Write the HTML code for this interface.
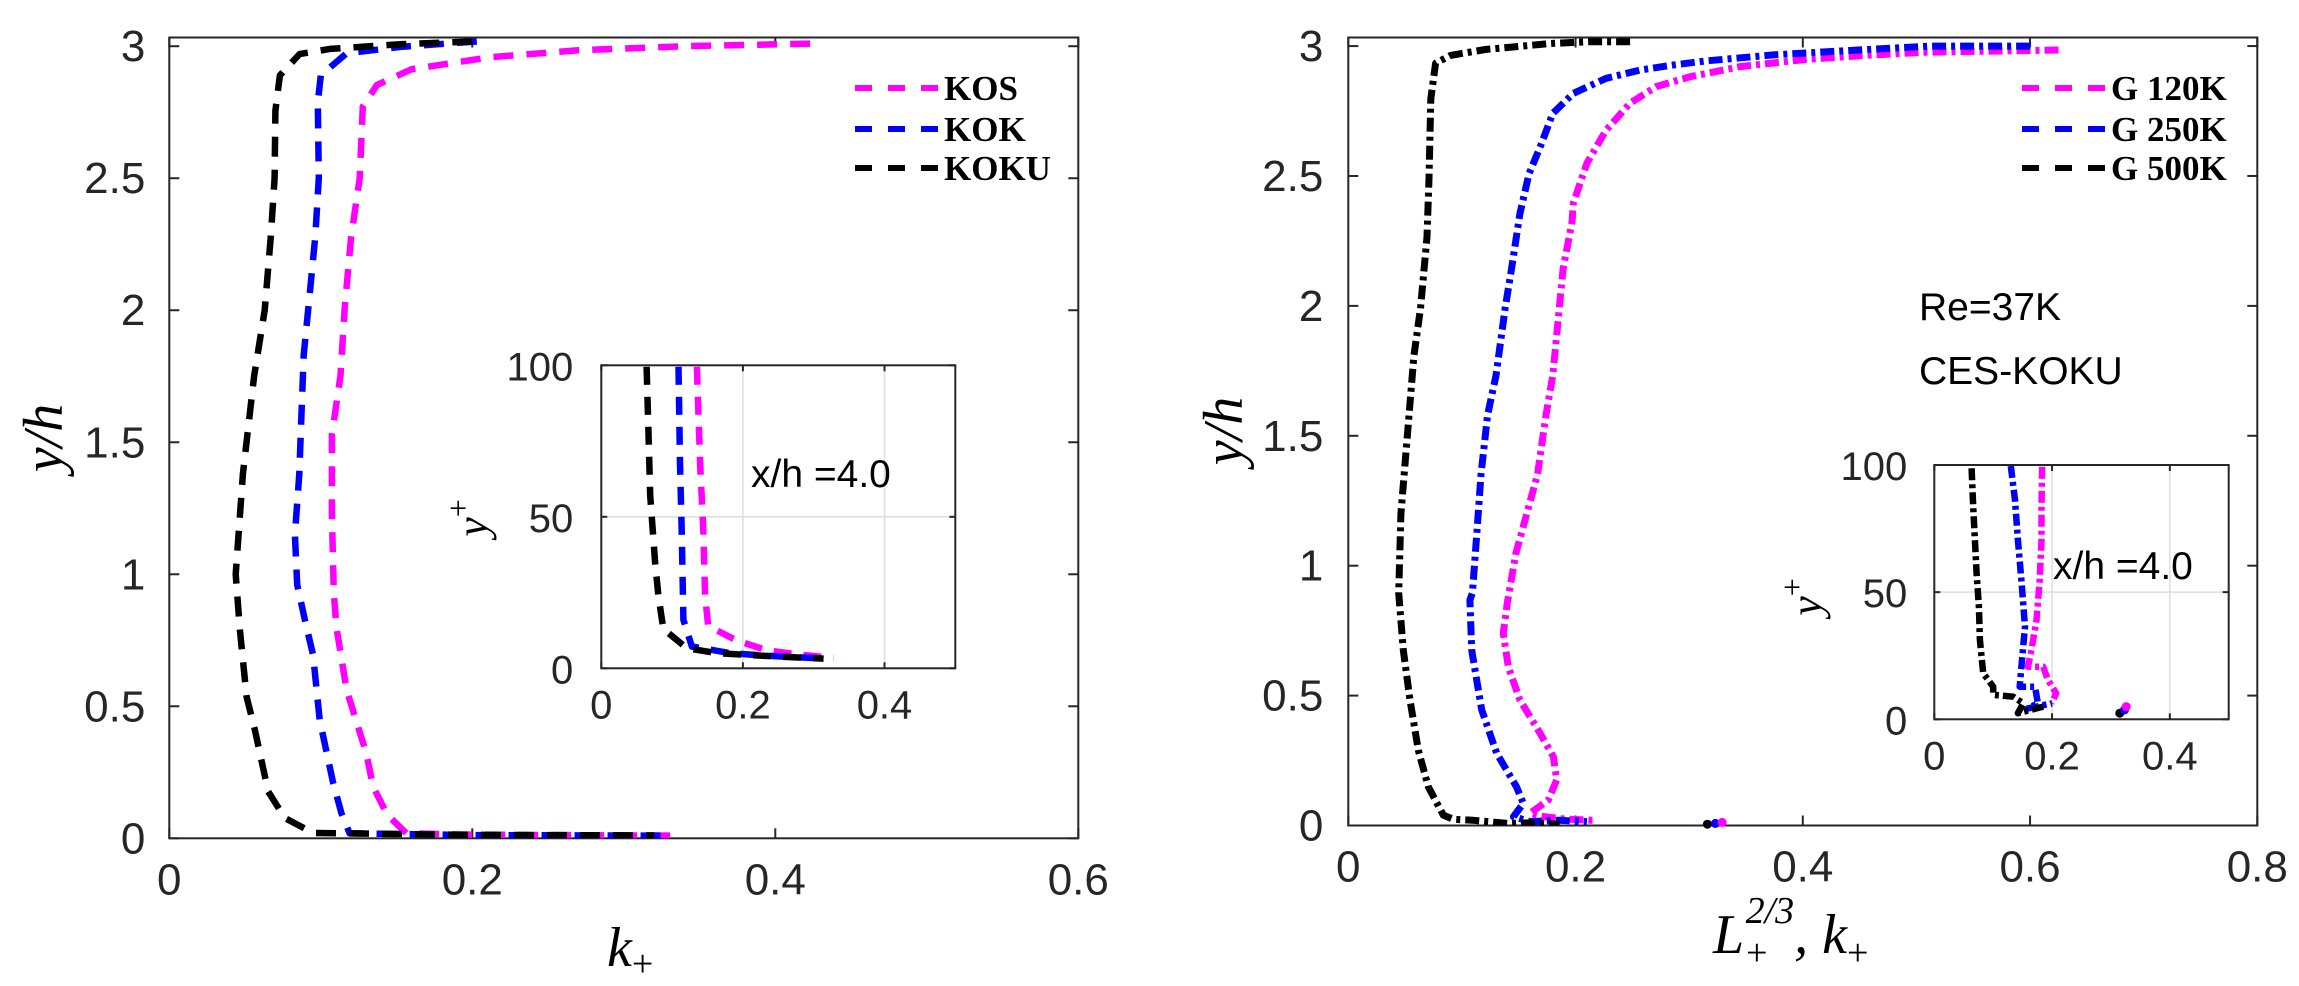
<!DOCTYPE html>
<html><head><meta charset="utf-8">
<style>
html,body{margin:0;padding:0;background:#fff;}
svg{display:block;}
.tk{font-family:"Liberation Sans",sans-serif;font-size:44px;fill:#262626;}
.tki{font-family:"Liberation Sans",sans-serif;font-size:40px;fill:#262626;}
.lg{font-family:"Liberation Serif",serif;font-weight:bold;font-size:35px;fill:#000;}
.al{font-family:"Liberation Serif",serif;font-style:italic;font-size:56px;fill:#000;}
.an{font-family:"Liberation Sans",sans-serif;font-size:39px;fill:#000;}
</style></head>
<body>
<svg id="fig" width="2299" height="986" viewBox="0 0 2299 986" xmlns="http://www.w3.org/2000/svg"></svg>
<script>
// ---- Left main plot data (k+ vs y/h) ----
const kosX=[0.423,0.34,0.269,0.2114,0.16,0.137,0.1277,0.1257,0.120,0.1158,0.113,0.1073,0.1073,0.1086,0.1103,0.117,0.130,0.1345,0.144,0.1565,0.2,0.26,0.335];
const kosY=[3.01,3.0,2.984,2.958,2.913,2.853,2.771,2.50,2.277,2.007,1.753,1.528,1.228,0.929,0.80,0.562,0.322,0.195,0.088,0.019,0.014,0.012,0.01];
const kokX=[0.203,0.154,0.117,0.1,0.098,0.0987,0.0964,0.093,0.0887,0.0872,0.0858,0.0829,0.0844,0.0895,0.0949,0.0993,0.108,0.1136,0.119,0.2,0.33];
const kokY=[3.018,2.998,2.973,2.89,2.786,2.50,2.28,2.08,1.83,1.60,1.38,1.15,0.96,0.827,0.694,0.448,0.214,0.095,0.019,0.012,0.01];
const kokuX=[0.2,0.154,0.106,0.086,0.073,0.070,0.0695,0.067,0.063,0.056,0.0486,0.0438,0.0466,0.051,0.0565,0.0653,0.0763,0.095,0.2,0.32];
const kokuY=[3.018,3.008,2.99,2.97,2.89,2.756,2.50,2.28,2.0,1.75,1.38,1.0,0.789,0.536,0.41,0.177,0.077,0.02,0.013,0.011];
// ---- Left inset data (k+ vs y+) ----
const inKosX=[0.135,0.1395,0.144,0.1466,0.151,0.191,0.234,0.281,0.328];
const inKosY=[99.5,67.6,45.6,24,14,9.2,5.9,4.5,3.4];
const inKokX=[0.109,0.1112,0.1136,0.116,0.128,0.182,0.224,0.271,0.318];
const inKokY=[99.5,67.6,45.6,16,7.2,5,4.3,3.7,3.2];
const inKokuX=[0.064,0.0665,0.069,0.076,0.0806,0.0876,0.121,0.163,0.215,0.267,0.314];
const inKokuY=[99.5,78.7,57,35,24,13,6.6,5,4.3,3.7,3.2];
// ---- Right main plot data (L+^(2/3), k+ vs y/h) ----
const g120X=[0.625,0.506,0.462,0.4035,0.345,0.301,0.271,0.248,0.227,0.21,0.198,0.197,0.189,0.185,0.180,0.174,0.1665,0.157,0.1474,0.1397,0.1364,0.1408,0.151,0.1688,0.1805,0.1834,0.176,0.16,0.17,0.19,0.215];
const g120Y=[2.985,2.976,2.966,2.949,2.921,2.882,2.844,2.78,2.677,2.549,2.395,2.325,2.142,1.96,1.732,1.58,1.351,1.199,1.046,0.849,0.74,0.611,0.483,0.355,0.265,0.175,0.098,0.047,0.035,0.025,0.02];
const g250X=[0.6,0.512,0.433,0.374,0.315,0.286,0.257,0.227,0.198,0.180,0.169,0.159,0.151,0.1436,0.138,0.130,0.1226,0.1168,0.1131,0.1092,0.107,0.1086,0.1174,0.1306,0.148,0.154,0.1453,0.16,0.185,0.21];
const g250Y=[3.0,3.0,2.981,2.966,2.943,2.927,2.908,2.876,2.818,2.741,2.613,2.508,2.355,2.142,1.99,1.732,1.58,1.351,1.123,0.895,0.868,0.675,0.445,0.278,0.149,0.085,0.034,0.015,0.02,0.015];
const g500X=[0.248,0.213,0.178,0.1207,0.090,0.0768,0.0726,0.071,0.0693,0.0635,0.0577,0.052,0.0463,0.0444,0.0484,0.0543,0.0616,0.0704,0.0836,0.0924,0.11,0.14,0.16,0.186];
const g500Y=[3.017,3.017,3.01,2.987,2.964,2.934,2.797,2.49,2.265,1.99,1.808,1.503,1.199,0.895,0.675,0.483,0.29,0.149,0.04,0.024,0.02,0.008,0.01,0.005];
const isoX=[0.316,0.323,0.329];
const isoY=[0.005,0.008,0.012];
// ---- Right inset data ----
const rin120X=[0.183,0.182,0.182,0.179,0.1735,0.165,0.159,0.185,0.193,0.207,0.199];
const rin120Y=[99.3,83.6,70.5,54.8,39,27.3,20.7,20.7,15.5,10.2,6.3];
const rin250X=[0.13,0.137,0.142,0.148,0.154,0.148,0.145,0.171,0.176,0.159,0.2];
const rin250Y=[99.6,86.2,70.5,54.7,36.4,20.7,12.8,12.8,6.3,4.3,6.3];
const rin500X=[0.0634,0.066,0.069,0.0718,0.0758,0.0775,0.083,0.1,0.1,0.134,0.151,0.142,0.185];
const rin500Y=[98.7,83.6,70.5,57.4,44.3,31.2,18.1,12.8,9.6,8.9,6.3,2.4,5];
const rinIsoX=[0.315,0.323,0.326];
const rinIsoY=[2.4,3.7,5];
// ---- tick labels ----
const mainYTicks=[0,0.5,1,1.5,2,2.5,3];
const mainYLabels=["0","0.5","1","1.5","2","2.5","3"];
const leftXTicks=[0,0.2,0.4,0.6];
const leftXLabels=["0","0.2","0.4","0.6"];
const rightXTicks=[0,0.2,0.4,0.6,0.8];
const rightXLabels=["0","0.2","0.4","0.6","0.8"];
const insetXTicks=[0,0.2,0.4];
const insetXLabels=["0","0.2","0.4"];
const insetYTicks=[0,50,100];
const insetYLabels=["0","50","100"];

const NS="http://www.w3.org/2000/svg";
const svg=document.getElementById('fig');
function mk(tag,attrs,parent){const e=document.createElementNS(NS,tag);for(const k in attrs)e.setAttribute(k,attrs[k]);(parent||svg).appendChild(e);return e;}
function axes(x0,x1,xmin,xmax,yb,yt,ymin,ymax){
  return {sx:v=>x0+(v-xmin)/(xmax-xmin)*(x1-x0), sy:v=>yb-(v-ymin)/(ymax-ymin)*(yb-yt), x0,x1,yb,yt};
}
const LM=axes(169.3,1078.3,0,0.6,838.3,37.5,0,3.033);
const LI=axes(601.3,955.3,0,0.5,668.3,365.3,0,100);
const RM=axes(1348.3,2257.3,0,0.8,825.5,37.5,0,3.033);
const RI=axes(1934.3,2228.7,0,0.5,719.3,465,0,100);

function frame(A,name,xt,xl,yt,yl,cls,tl,xoff,yoff,grid){
  const g=mk('g',{});
  
  
  mk('rect',{x:A.x0,y:A.yt,width:A.x1-A.x0,height:A.yb-A.yt,fill:'#fff',stroke:'none'},g);
  if(grid){
    xt.forEach(v=>{if(v>0)mk('line',{x1:A.sx(v),x2:A.sx(v),y1:A.yt,y2:A.yb,stroke:'#dedede','stroke-width':1.5},g);});
    yt.forEach(v=>{if(v>0&&v<100)mk('line',{x1:A.x0,x2:A.x1,y1:A.sy(v),y2:A.sy(v),stroke:'#dedede','stroke-width':1.5},g);});
  }
  xt.forEach((v,i)=>{const x=A.sx(v);
    mk('line',{x1:x,x2:x,y1:A.yb,y2:A.yb-tl,stroke:'#262626','stroke-width':2},g);
    mk('line',{x1:x,x2:x,y1:A.yt,y2:A.yt+tl,stroke:'#262626','stroke-width':2},g);
    const t=mk('text',{x:x,y:A.yb+xoff,'text-anchor':'middle',class:cls},g);t.textContent=xl[i];
    
    
  });
  yt.forEach((v,i)=>{const y=A.sy(v);
    mk('line',{x1:A.x0,x2:A.x0+tl,y1:y,y2:y,stroke:'#262626','stroke-width':2},g);
    mk('line',{x1:A.x1,x2:A.x1-tl,y1:y,y2:y,stroke:'#262626','stroke-width':2},g);
    const t=mk('text',{x:A.x0-yoff,y:y+15,'text-anchor':'end',class:cls},g);t.textContent=yl[i];
    
    
  });
  mk('rect',{x:A.x0,y:A.yt,width:A.x1-A.x0,height:A.yb-A.yt,fill:'none',stroke:'#262626','stroke-width':2},g);
  return g;
}
function series(A,xs,ys,color,name,dash,w,clip){
  const pts=xs.map((v,i)=>A.sx(v).toFixed(1)+','+A.sy(ys[i]).toFixed(1)).join(' ');
  const p=mk('polyline',{points:pts,fill:'none',stroke:color,'stroke-width':w,'stroke-dasharray':dash,'stroke-linejoin':'round'});
  if(clip)p.setAttribute('clip-path','url(#'+clip+')');
  
  
  return p;
}
function dots(A,xs,ys,colors,name){
  xs.forEach((v,i)=>{const c=mk('circle',{cx:A.sx(v),cy:A.sy(ys[i]),r:4.5,fill:colors[i]});
    
    });
}
const defs=mk('defs',{});
function clip(id,A){const c=mk('clipPath',{id:id},defs);mk('rect',{x:A.x0,y:A.yt-6,width:A.x1-A.x0,height:A.yb-A.yt+6},c);}
clip('cLM',LM);clip('cLI',LI);clip('cRM',RM);clip('cRI',RI);

// Left main
frame(LM,'left-axes',leftXTicks,leftXLabels,mainYTicks,mainYLabels,'tk',10,56,24,false);
series(LM,kosX,kosY,'#ff00ff','kos-line','20 13',6.5,'cLM');
series(LM,kokX,kokY,'#0000ff','kok-line','20 13',6.5,'cLM');
series(LM,kokuX,kokuY,'#000000','koku-line','20 13',6.5,'cLM');
// Left inset
frame(LI,'left-inset-axes',insetXTicks,insetXLabels,insetYTicks,insetYLabels,'tki',6,50,28,true);
series(LI,inKosX,inKosY,'#ff00ff','inset-kos-line','18 12',6.5,'cLI');
series(LI,inKokX,inKokY,'#0000ff','inset-kok-line','18 12',6.5,'cLI');
series(LI,inKokuX,inKokuY,'#000000','inset-koku-line','18 12',6.5,'cLI');
// Right main
frame(RM,'right-axes',rightXTicks,rightXLabels,mainYTicks,mainYLabels,'tk',10,56,25,false);
series(RM,g120X,g120Y,'#ff00ff','g120k-line','14 5 4 5',7,'cRM');
series(RM,g250X,g250Y,'#0000ff','g250k-line','14 5 4 5',7,'cRM');
series(RM,g500X,g500Y,'#000000','g500k-line','14 5 4 5',7,'cRM');
dots(RM,isoX,isoY,['#000','#0000ff','#ff00ff'],'outlier-point');
// Right inset
frame(RI,'right-inset-axes',insetXTicks,insetXLabels,insetYTicks,insetYLabels,'tki',6,50,27,true);
series(RI,rin120X,rin120Y,'#ff00ff','inset-g120k-line','12 4 4 4',6.5,'cRI');
series(RI,rin250X,rin250Y,'#0000ff','inset-g250k-line','12 4 4 4',6.5,'cRI');
series(RI,rin500X,rin500Y,'#000000','inset-g500k-line','12 4 4 4',6.5,'cRI');
dots(RI,rinIsoX,rinIsoY,['#000','#0000ff','#ff00ff'],'inset-outlier-point');
</script>
<svg width="2299" height="986" style="position:absolute;left:0;top:0;pointer-events:none" xmlns="http://www.w3.org/2000/svg">
  <!-- left legend -->
  <g>
    <g><line x1="855" y1="88" x2="938" y2="88" stroke="#ff00ff" stroke-width="6" stroke-dasharray="17 16"/><text class="lg" x="944" y="100">KOS</text></g>
    <g><line x1="855" y1="129" x2="938" y2="129" stroke="#0000ff" stroke-width="6" stroke-dasharray="17 16"/><text class="lg" x="944" y="141">KOK</text></g>
    <g><line x1="855" y1="168" x2="938" y2="168" stroke="#000" stroke-width="6" stroke-dasharray="17 16"/><text class="lg" x="944" y="180">KOKU</text></g>
  </g>
  <!-- right legend -->
  <g>
    <g><line x1="2022" y1="88" x2="2105" y2="88" stroke="#ff00ff" stroke-width="6" stroke-dasharray="17 16"/><text class="lg" x="2111" y="100">G 120K</text></g>
    <g><line x1="2022" y1="129" x2="2105" y2="129" stroke="#0000ff" stroke-width="6" stroke-dasharray="17 16"/><text class="lg" x="2111" y="141">G 250K</text></g>
    <g><line x1="2022" y1="168" x2="2105" y2="168" stroke="#000" stroke-width="6" stroke-dasharray="17 16"/><text class="lg" x="2111" y="180">G 500K</text></g>
  </g>
  <!-- axis labels -->
  <text class="al" transform="translate(62,438) rotate(-90)" text-anchor="middle">y/h</text>
  <text class="al" transform="translate(1242,431) rotate(-90)" text-anchor="middle">y/h</text>
  <text class="al" x="607" y="966">k<tspan font-size="38" font-style="normal" dy="10">+</tspan></text>
  <text class="al" x="1713" y="953">L<tspan font-size="38" font-style="normal" dy="12" dx="2">+</tspan><tspan font-size="38" dy="-42" dx="-22">2/3</tspan><tspan dy="30">, k</tspan><tspan font-size="38" font-style="normal" dy="12">+</tspan></text>
  <text class="al" style="font-size:44px" transform="translate(487,518) rotate(-90)" text-anchor="middle">y<tspan font-size="32" font-style="normal" dy="-18">+</tspan></text>
  <text class="al" style="font-size:44px" transform="translate(1821,597) rotate(-90)" text-anchor="middle">y<tspan font-size="32" font-style="normal" dy="-18">+</tspan></text>
  <!-- annotations -->
  <text class="an" x="751" y="487">x/h =4.0</text>
  <text class="an" x="2053" y="579">x/h =4.0</text>
  <text class="an" x="1919" y="320">Re=37K</text>
  <text class="an" x="1919" y="384">CES-KOKU</text>
</svg>
</body></html>
